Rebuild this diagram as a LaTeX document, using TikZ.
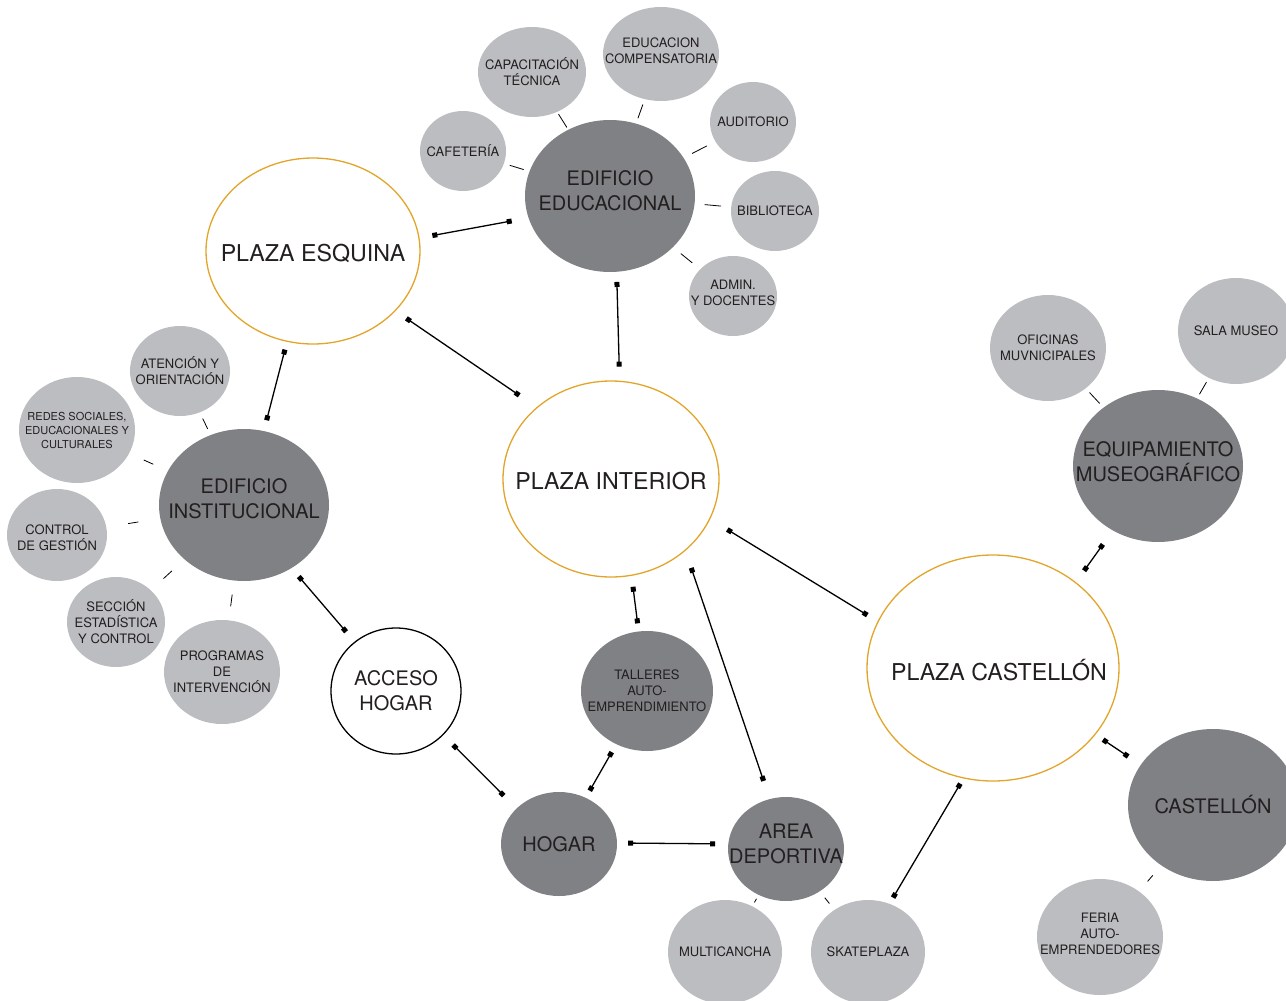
\documentclass[tikz,border=0pt]{standalone}
\usepackage{fontspec}
\setmainfont{TeX Gyre Heros}
\usetikzlibrary{shapes.geometric,arrows.meta}
\definecolor{plazaline}{RGB}{226,165,42}
\definecolor{hubgray}{RGB}{128,129,132}
\definecolor{satgray}{RGB}{188,189,192}
\definecolor{ink}{RGB}{35,31,32}
\tikzset{
  plaza/.style={ellipse, draw=plazaline, line width=1.3pt, fill=white, inner sep=0pt},
  access/.style={ellipse, draw=black, line width=1.3pt, fill=white, inner sep=0pt},
  hub/.style={ellipse, fill=hubgray, inner sep=0pt},
  sat/.style={ellipse, fill=satgray, inner sep=0pt},
  bigtxt/.style={align=center, text=ink, yshift=-2pt, font=\fontsize{23.2}{27}\selectfont},
  hubtxt/.style={align=center, text=ink, font=\fontsize{20}{25}\selectfont},
  smalltxt/.style={align=center, text=ink, font=\fontsize{13}{16}\selectfont},
  link/.style={line width=1.3pt, arrows={Square[length=5pt,width=5pt]-Square[length=5pt,width=5pt]}},
  stub/.style={line width=0.8pt}
}
\begin{document}
\begin{tikzpicture}[x=1pt,y=-1pt]
  \useasboundingbox (0,0) rectangle (1286,1001);
  \clip (0,0) rectangle (1286,1001);
  % plazas
  \node[plaza, minimum width=214pt, minimum height=186pt, label={[bigtxt]center:PLAZA ESQUINA}] (pesq) at (313,251) {};
  \node[plaza, minimum width=216pt, minimum height=196pt, label={[bigtxt]center:PLAZA INTERIOR}] (pint) at (611,479) {};
  \node[plaza, minimum width=252pt, minimum height=226pt, label={[bigtxt,xshift=6pt]center:PLAZA CASTELLÓN}] (pcas) at (993,668) {};
  % buildings
  \node[hub, minimum width=170pt, minimum height=152pt, label={[hubtxt,yshift=5pt]center:EDIFICIO\\EDUCACIONAL}] (edu) at (610,196) {};
  \node[hub, minimum width=170pt, minimum height=152pt, label={[hubtxt,yshift=6pt]center:EDIFICIO\\INSTITUCIONAL}] (inst) at (244,505) {};
  \node[hub, minimum width=170pt, minimum height=152pt, label={[hubtxt,yshift=4pt]center:EQUIPAMIENTO\\MUSEOGRÁFICO}] (museo) at (1158,466) {};
  \node[hub, minimum width=170pt, minimum height=152pt, label={[hubtxt]center:CASTELLÓN}] (cast) at (1213,805) {};
  \node[access, minimum width=130pt, minimum height=126pt, label={[hubtxt]center:ACCESO\\HOGAR}] (acc) at (396,691) {};
  \node[hub, minimum width=132pt, minimum height=120pt, label={[smalltxt]center:TALLERES\\AUTO-\\EMPRENDIMIENTO}] (tall) at (647,691) {};
  \node[hub, minimum width=116pt, minimum height=104pt, label={[hubtxt]center:HOGAR}] (hogar) at (559,844) {};
  \node[hub, minimum width=116pt, minimum height=104pt, label={[hubtxt,yshift=5pt]center:AREA\\DEPORTIVA}] (area) at (786,849) {};
  % programme circles
  \node[sat, minimum width=86pt, minimum height=80pt, label={[smalltxt]center:CAFETERÍA}] (cafe) at (463,151) {};
  \node[sat, minimum width=108pt, minimum height=90pt, label={[smalltxt]center:CAPACITACIÓN\\TÉCNICA}] (capac) at (532,72) {};
  \node[sat, minimum width=116pt, minimum height=94pt, label={[smalltxt,yshift=3pt]center:EDUCACION\\COMPENSATORIA}] (educ) at (661,54) {};
  \node[sat, minimum width=86pt, minimum height=80pt, label={[smalltxt]center:AUDITORIO}] (aud) at (753,122) {};
  \node[sat, minimum width=88pt, minimum height=80pt, label={[smalltxt]center:BIBLIOTECA}] (bib) at (775,211) {};
  \node[sat, minimum width=88pt, minimum height=80pt, label={[smalltxt,yshift=3pt]center:ADMIN.\\Y DOCENTES}] (admin) at (733,296) {};
  \node[sat, minimum width=100pt, minimum height=90pt, label={[smalltxt]center:ATENCIÓN Y\\ORIENTACIÓN}] (aten) at (180,371) {};
  \node[sat, minimum width=116pt, minimum height=106pt, label={[smalltxt,font=\fontsize{11}{14}\selectfont]center:REDES SOCIALES,\\EDUCACIONALES Y\\CULTURALES}] (redes) at (77,430) {};
  \node[sat, minimum width=100pt, minimum height=92pt, label={[smalltxt,yshift=-3pt]center:CONTROL\\DE GESTIÓN}] (ctrl) at (57,535) {};
  \node[sat, minimum width=98pt, minimum height=90pt, label={[smalltxt]center:SECCIÓN\\ESTADÍSTICA\\Y CONTROL}] (secc) at (116,622) {};
  \node[sat, minimum width=116pt, minimum height=104pt, label={[smalltxt]center:PROGRAMAS\\DE\\INTERVENCIÓN}] (prog) at (222,672) {};
  \node[sat, minimum width=116pt, minimum height=106pt, label={[smalltxt]center:OFICINAS\\MUVNICIPALES}] (ofic) at (1048,348) {};
  \node[sat, minimum width=116pt, minimum height=106pt, label={[smalltxt]center:SALA MUSEO}] (sala) at (1236,331) {};
  \node[sat, minimum width=126pt, minimum height=116pt, label={[smalltxt,yshift=3pt]center:FERIA\\AUTO-\\EMPRENDEDORES}] (feria) at (1100,937) {};
  \node[sat, minimum width=114pt, minimum height=104pt, label={[smalltxt]center:MULTICANCHA}] (multi) at (725,952) {};
  \node[sat, minimum width=114pt, minimum height=104pt, label={[smalltxt]center:SKATEPLAZA}] (skate) at (868,952) {};
  % links
  \draw[link, shorten <=13pt, shorten >=17pt] (pesq.7) -- (edu.195);
  \draw[link, shorten <=13pt, shorten >=21pt] (pesq.-36) -- (pint.136);
  \draw[link, shorten <=10pt, shorten >=14pt] (edu.-85) -- (pint.85);
  \draw[link, shorten <=8pt, shorten >=11pt] (pesq.-106) -- (inst.75);
  \draw[link, shorten <=11pt, shorten >=13pt] (inst.-53) -- (acc.130);
  \draw[link, shorten <=14pt, shorten >=18pt] (acc.-43) -- (hogar.140);
  \draw[link, shorten <=11pt, shorten >=8pt] (pint.-78) -- (tall.98);
  \draw[link, shorten <=9pt, shorten >=8pt] (tall.-120) -- (hogar.60);
  \draw[link, shorten <=11pt, shorten >=13pt] (hogar.1) -- (area.175);
  \draw[link, shorten <=18pt, shorten >=19pt] (pint.-44) -- (area.108);
  \draw[link, shorten <=20pt, shorten >=12pt] (pint.-22) -- (pcas.158);
  \draw[link, shorten <=6pt, shorten >=7pt] (pcas.-105) -- (skate.66);
  \draw[link, shorten <=14pt, shorten >=17pt] (pcas.46) -- (museo.-125);
  \draw[link, shorten <=9pt, shorten >=15pt] (pcas.-33) -- (cast.151);
  % stubs
  \draw[stub, shorten <=6pt, shorten >=6pt] (edu) -- (cafe);
  \draw[stub, shorten <=2.5pt, shorten >=2.5pt] (edu) -- (capac);
  \draw[stub, shorten <=5.5pt, shorten >=5.5pt] (edu) -- (educ);
  \draw[stub, shorten <=9.5pt, shorten >=9.5pt] (edu) -- (aud);
  \draw[stub, shorten <=10pt, shorten >=10pt] (edu) -- (bib);
  \draw[stub, shorten <=10pt, shorten >=10pt] (edu) -- (admin);
  \draw[stub, shorten <=6.7pt, shorten >=6.7pt] (inst) -- (aten);
  \draw[stub, shorten <=16pt, shorten >=16pt] (inst) -- (redes);
  \draw[stub, shorten <=22pt, shorten >=22pt] (inst) -- (ctrl);
  \draw[stub, shorten <=17pt, shorten >=17pt] (inst) -- (secc);
  \draw[stub, shorten <=14pt, shorten >=14pt] (inst) -- (prog);
  \draw[stub, shorten <=5.5pt, shorten >=5.5pt] (museo) -- (ofic);
  \draw[stub, shorten <=4.7pt, shorten >=4.7pt] (museo) -- (sala);
  \draw[stub, shorten <=13pt, shorten >=13pt] (cast) -- (feria);
  \draw[stub, shorten <=4.3pt, shorten >=4.3pt] (area) -- (multi);
  \draw[stub, shorten <=8pt, shorten >=8pt] (area) -- (skate);
\end{tikzpicture}
\end{document}
